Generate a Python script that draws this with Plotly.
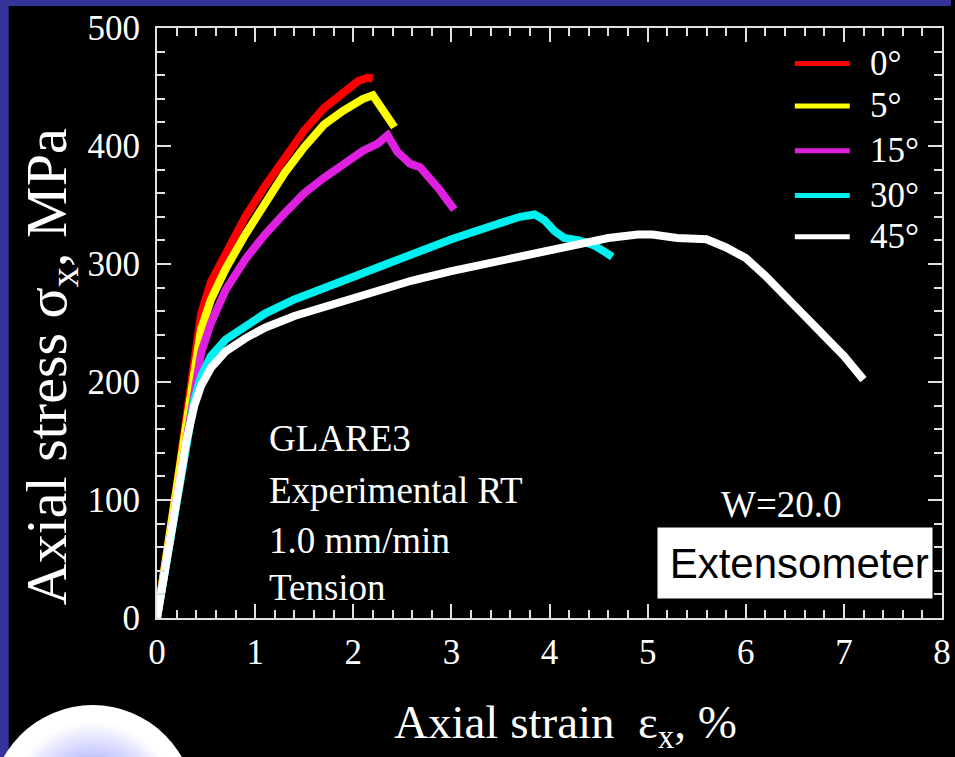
import plotly.graph_objects as go

# ---------------- data ----------------
angles = ["0°", "5°", "15°", "30°", "45°"]
colors = ["#ff0000", "#ffff00", "#e020e0", "#00f0f0", "#ffffff"]

x_0 = [0, 0.05, 0.1, 0.2, 0.3, 0.38, 0.45, 0.55, 0.7, 0.9, 1.1, 1.3, 1.5, 1.7, 1.9, 2.05, 2.15, 2.2]
y_0 = [0, 25, 55, 110, 170, 220, 258, 285, 310, 340, 366, 390, 413, 432, 446, 455, 458, 457]

x_5 = [0, 0.05, 0.1, 0.2, 0.3, 0.38, 0.45, 0.55, 0.7, 0.9, 1.1, 1.3, 1.5, 1.7, 1.9, 2.1, 2.2, 2.3, 2.42]
y_5 = [0, 25, 55, 110, 165, 210, 245, 270, 296, 325, 352, 377, 399, 418, 430, 440, 443, 430, 416]

x_15 = [0, 0.05, 0.1, 0.2, 0.3, 0.38, 0.45, 0.55, 0.7, 0.9, 1.1, 1.3, 1.5, 1.7, 1.9, 2.1, 2.25, 2.35,
        2.45, 2.58, 2.68, 2.78, 2.88, 2.95, 3.03]
y_15 = [0, 25, 55, 105, 155, 195, 225, 250, 278, 304, 325, 343, 360, 373, 385, 396, 402, 409,
        395, 385, 382, 373, 363, 355, 346]

x_30 = [0, 0.05, 0.1, 0.2, 0.3, 0.38, 0.45, 0.55, 0.7, 0.9, 1.1, 1.4, 1.8, 2.2, 2.6, 3.0, 3.4, 3.7,
        3.85, 3.95, 4.05, 4.15, 4.3, 4.45, 4.55, 4.64]
y_30 = [0, 25, 55, 105, 150, 185, 205, 222, 236, 248, 258, 270, 283, 296, 309, 321, 332, 340,
        342, 337, 328, 322, 320, 316, 311, 306]

x_45 = [0, 0.05, 0.1, 0.2, 0.3, 0.38, 0.45, 0.55, 0.7, 0.9, 1.1, 1.4, 1.8, 2.2, 2.6, 3.0, 3.4, 3.8,
        4.2, 4.6, 4.9, 5.05, 5.3, 5.6, 5.8, 6.0, 6.2, 6.4, 6.6, 6.8, 7.0, 7.2]
y_45 = [0, 25, 55, 105, 150, 180, 197, 212, 226, 237, 246, 256, 266, 277, 286, 294, 301, 309,
        316, 322, 325, 325, 322, 321, 314, 305, 290, 273, 258, 240, 222, 202]

series_x = [x_0, x_5, x_15, x_30, x_45]
series_y = [y_0, y_5, y_15, y_30, y_45]

x_ticks = [0, 1, 2, 3, 4, 5, 6, 7, 8]
y_ticks = [0, 100, 200, 300, 400, 500]

info_lines = ["GLARE3", "Experimental RT", "1.0 mm/min", "Tension"]

# ---------------- figure ----------------
W, H = 955, 757
L, R, T, B = 157, 4, 28, 139
PW, PH = W - L - R, H - T - B

def px_x(p):
    return (p - L) / PW

def px_y(p):
    return (H - B - p) / PH

SERIF = "Liberation Serif, Times New Roman, serif"
AX = "#e0e0e0"

fig = go.Figure()
for xs, ys, c, name in zip(series_x, series_y, colors, angles):
    fig.add_trace(go.Scatter(x=xs, y=ys, mode="lines", name=name,
                             line=dict(color=c, width=8), showlegend=False))

shapes = []
# blue slide border (left and top)
shapes.append(dict(type="rect", xref="paper", yref="paper", x0=px_x(-5), x1=px_x(7),
                   y0=px_y(H + 5), y1=px_y(-5), fillcolor="#333399", line_width=0, layer="below"))
shapes.append(dict(type="rect", xref="paper", yref="paper", x0=px_x(-5), x1=px_x(W + 5),
                   y0=px_y(6), y1=px_y(-5), fillcolor="#333399", line_width=0, layer="below"))

# decorative gradient circle (bottom left)
cx, cy, rad = 92, 809, 104
N = 30
for i in range(N):
    f = 1 - i / N
    r = rad * f
    if f > 0.85:
        t = 0.0
    else:
        t = min(1.0, (0.85 - f) / 0.6)
    rr = int(255 - t * (255 - 150))
    col = f"rgb({rr},{rr},255)"
    shapes.append(dict(type="circle", xref="paper", yref="paper",
                       x0=px_x(cx - r), x1=px_x(cx + r), y0=px_y(cy + r), y1=px_y(cy - r),
                       fillcolor=col, line_width=0, layer="above"))

# legend samples
leg_y = [470, 434, 396, 358, 323]
for c, ly in zip(colors, leg_y):
    shapes.append(dict(type="line", xref="x", yref="y", x0=6.5, x1=7.06, y0=ly, y1=ly,
                       line=dict(color=c, width=5)))

annotations = []
for name, ly in zip(angles, leg_y):
    annotations.append(dict(x=7.25, y=ly, xref="x", yref="y", text=name, showarrow=False,
                            xanchor="left", yanchor="middle",
                            font=dict(family=SERIF, size=35, color="white")))

info_y = [152, 108, 66, 26]
for txt, iy in zip(info_lines, info_y):
    annotations.append(dict(x=1.12, y=iy, xref="x", yref="y", text=txt, showarrow=False,
                            xanchor="left", yanchor="middle",
                            font=dict(family=SERIF, size=37, color="white")))

annotations.append(dict(x=6.36, y=96, xref="x", yref="y", text="W=20.0", showarrow=False,
                        xanchor="center", yanchor="middle",
                        font=dict(family=SERIF, size=37, color="white")))

annotations.append(dict(x=5.1, y=46.6, xref="x", yref="y",
                        text="\u00a0Extensometer", showarrow=False,
                        xanchor="left", yanchor="middle", width=274, height=70,
                        align="left", bgcolor="white", borderpad=0,
                        font=dict(family="Liberation Sans, Arial, sans-serif", size=42, color="black")))

# axis titles
annotations.append(dict(x=px_x(570), y=px_y(725), xref="paper", yref="paper",
                        text="Axial strain  ε<sub>x</sub>, %", showarrow=False,
                        xanchor="center", yanchor="middle",
                        font=dict(family=SERIF, size=47, color="white")))
annotations.append(dict(x=px_x(50), y=px_y(367), xref="paper", yref="paper",
                        text="Axial stress σ<sub>x</sub>, MPa", showarrow=False, textangle=-90,
                        xanchor="center", yanchor="middle",
                        font=dict(family=SERIF, size=58, color="white")))

axis_common = dict(showline=True, linecolor=AX, linewidth=2, mirror="ticks",
                   ticks="inside", tickcolor=AX, tickwidth=2, ticklen=14,
                   showgrid=False, zeroline=False, ticklabeloverflow="allow",
                   tickfont=dict(family=SERIF, size=35, color="white"))

fig.update_xaxes(range=[0, 8], tickvals=x_ticks, ticktext=[str(v) for v in x_ticks],
                 minor=dict(ticks="inside", dtick=0.2, ticklen=8, tickcolor=AX, tickwidth=2, showgrid=False),
                 ticklabelstandoff=2, **axis_common)
fig.update_yaxes(range=[0, 500], tickvals=y_ticks, ticktext=[str(v) for v in y_ticks],
                 minor=dict(ticks="inside", dtick=20, ticklen=8, tickcolor=AX, tickwidth=2, showgrid=False),
                 ticklabelstandoff=8, **axis_common)

fig.update_layout(width=W, height=H, autosize=False,
                  margin=dict(l=L, r=R, t=T, b=B, pad=0),
                  paper_bgcolor="black", plot_bgcolor="black",
                  shapes=shapes, annotations=annotations, showlegend=False)

fig.write_html("out.html", config={"displayModeBar": False},
               post_script="document.body.style.margin='0';document.body.style.overflow='hidden';")
